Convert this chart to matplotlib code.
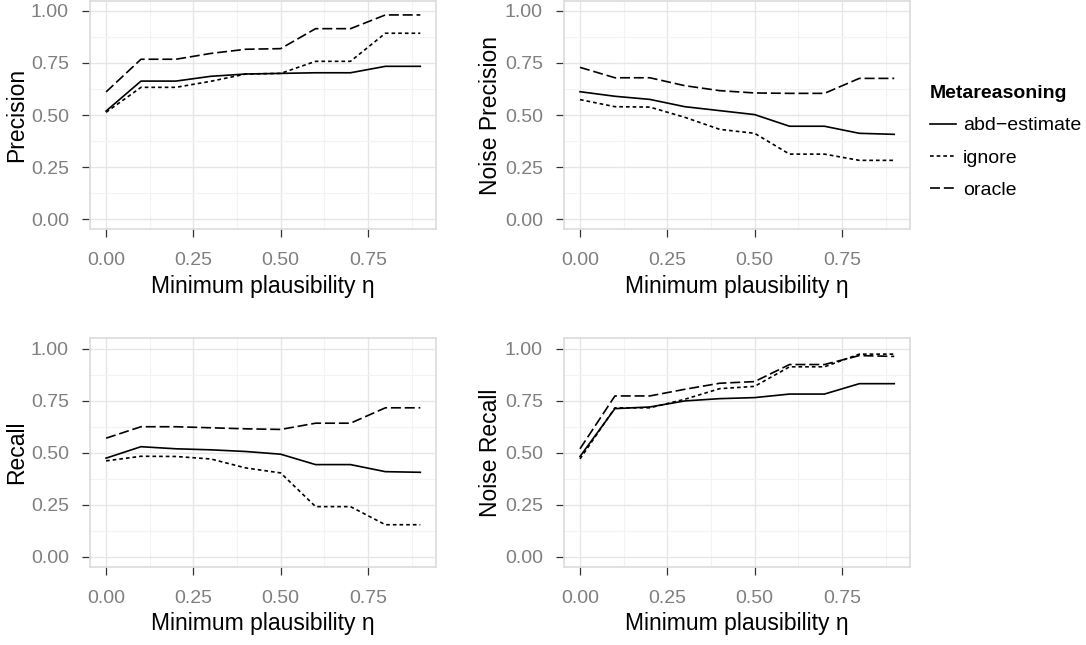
import numpy as np
import matplotlib.pyplot as plt
from matplotlib.ticker import MultipleLocator

plt.rcParams['font.family'] = ['Liberation Sans', 'DejaVu Sans']

# minimum plausibility thresholds
eta = [0.0, 0.1, 0.2, 0.3, 0.4, 0.5, 0.6, 0.7, 0.8, 0.9]
methods = ['abd\u2212estimate', 'ignore', 'oracle']

precision_abd = [0.519, 0.663, 0.663, 0.686, 0.697, 0.700, 0.703, 0.703, 0.734, 0.734]
precision_ignore = [0.513, 0.633, 0.633, 0.662, 0.697, 0.700, 0.758, 0.758, 0.893, 0.893]
precision_oracle = [0.611, 0.768, 0.768, 0.796, 0.816, 0.819, 0.915, 0.915, 0.981, 0.981]

noise_prec_abd = [0.612, 0.590, 0.575, 0.540, 0.521, 0.502, 0.446, 0.446, 0.412, 0.407]
noise_prec_ignore = [0.574, 0.540, 0.538, 0.489, 0.431, 0.412, 0.312, 0.312, 0.282, 0.282]
noise_prec_oracle = [0.729, 0.679, 0.679, 0.641, 0.617, 0.606, 0.604, 0.604, 0.676, 0.676]

recall_abd = [0.473, 0.528, 0.518, 0.513, 0.505, 0.492, 0.442, 0.442, 0.408, 0.405]
recall_ignore = [0.460, 0.482, 0.481, 0.469, 0.426, 0.402, 0.240, 0.240, 0.153, 0.153]
recall_oracle = [0.569, 0.624, 0.624, 0.619, 0.614, 0.611, 0.641, 0.641, 0.715, 0.715]

noise_rec_abd = [0.481, 0.711, 0.719, 0.748, 0.759, 0.764, 0.781, 0.781, 0.831, 0.831]
noise_rec_ignore = [0.469, 0.715, 0.715, 0.756, 0.807, 0.818, 0.912, 0.912, 0.973, 0.973]
noise_rec_oracle = [0.518, 0.772, 0.772, 0.804, 0.833, 0.841, 0.923, 0.923, 0.966, 0.962]

panels = [
    ('Precision', [precision_abd, precision_ignore, precision_oracle]),
    ('Noise Precision', [noise_prec_abd, noise_prec_ignore, noise_prec_oracle]),
    ('Recall', [recall_abd, recall_ignore, recall_oracle]),
    ('Noise Recall', [noise_rec_abd, noise_rec_ignore, noise_rec_oracle]),
]

# ggplot-like linetypes
styles = [dict(linestyle='-'),
          dict(linestyle=(0, (2.2, 1.8))),
          dict(linestyle=(0, (6.0, 2.3)))]

fig = plt.figure(figsize=(10.86, 6.45), dpi=100)
lefts = [0.0832, 0.5196]
bottoms = [0.6443, 0.121]
w = 0.3183
h = 0.3548

handles = []
for i, (ylabel, series) in enumerate(panels):
    ax = fig.add_axes([lefts[i % 2], bottoms[i // 2], w, h])
    ax.set_facecolor('white')
    for vals, st in zip(series, styles):
        ln, = ax.plot(eta, vals, color='black', linewidth=1.2, **st)
        if i == 0:
            handles.append(ln)
    ax.set_xlim(-0.045, 0.945)
    ax.set_ylim(-0.05, 1.05)
    ax.xaxis.set_minor_locator(MultipleLocator(0.125))
    ax.yaxis.set_minor_locator(MultipleLocator(0.125))
    ax.set_xticks([0, 0.25, 0.5, 0.75])
    ax.set_xticklabels(['0.00', '0.25', '0.50', '0.75'])
    ax.set_yticks([0, 0.25, 0.5, 0.75, 1.0])
    ax.set_yticklabels(['0.00', '0.25', '0.50', '0.75', '1.00'])
    ax.grid(which='major', color='#e6e6e6', linewidth=1.0)
    ax.grid(which='minor', color='#f3f3f3', linewidth=0.8)
    ax.set_axisbelow(True)
    for sp in ax.spines.values():
        sp.set_color('#dcdcdc')
        sp.set_linewidth(1.2)
    ax.tick_params(which='major', length=5.5, width=0.9, color='#333333',
                   labelcolor='#7f7f7f', labelsize=14)
    ax.tick_params(axis='y', pad=10)
    ax.tick_params(axis='x', pad=11)
    ax.tick_params(which='minor', length=0)
    ax.set_xlabel('Minimum plausibility \u03b7', fontsize=16.5, labelpad=4)
    ax.set_ylabel(ylabel, fontsize=16.5, labelpad=2)

leg = fig.legend(handles, methods, title='Metareasoning', loc='upper left',
                 bbox_to_anchor=(0.849, 0.880), frameon=False, fontsize=14,
                 title_fontsize=14, handlelength=1.35, handletextpad=0.35,
                 labelspacing=0.75, alignment='left', borderaxespad=0)
leg.get_title().set_fontweight('bold')

fig.savefig('out.png', dpi=100)
